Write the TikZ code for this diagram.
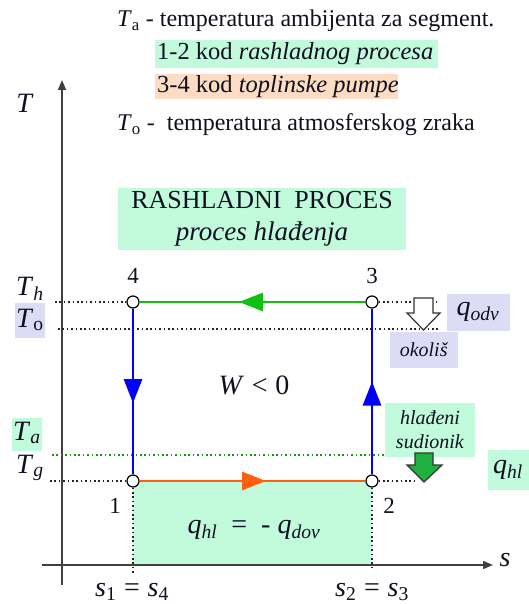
\documentclass[tikz,border=0pt]{standalone}
\usepackage{fontspec}
\setmainfont{Liberation Serif}
\usetikzlibrary{arrows.meta,decorations.markings}
\definecolor{mint}{HTML}{C2FADC}
\definecolor{lav}{HTML}{DCDCF6}
\definecolor{peach}{HTML}{FCDCC2}
\definecolor{lgreen}{HTML}{10C010}
\definecolor{lorange}{HTML}{FF6010}
\definecolor{lblue}{HTML}{0000FF}
\definecolor{bgreen}{HTML}{20B040}
\definecolor{ink}{HTML}{101020}
\newcommand{\lo}[1]{\textsubscript{#1}}
\newcommand{\fsz}[1]{\fontsize{#1}{#1}\selectfont}
\begin{document}
\begin{tikzpicture}[x=1pt,y=-1pt,
  txt/.style={font=\fsz{24}, inner sep=0pt, text=ink},
  var/.style={font=\fsz{28}, inner sep=0pt, text=ink},
  num/.style={font=\fsz{23}, inner sep=0pt, text=ink},
  boxm/.style={fill=mint, inner sep=0pt, text=ink},
  boxl/.style={fill=lav, inner sep=0pt, text=ink},
  boxp/.style={fill=peach, inner sep=0pt, text=ink},
  dotl/.style={line width=1.3pt, dash pattern=on 1.6pt off 2.8pt, black!85},
  gdotl/.style={line width=1.3pt, dash pattern=on 1.6pt off 2.8pt, lgreen!80!black},
  pt/.style={circle, draw=black, fill=white, minimum size=12pt, inner sep=0pt, line width=1.2pt},
  axis/.style={line width=1.6pt, black!75, -{Triangle[length=10pt,width=8pt]}},
  arrowmid/.style={postaction={decorate}, decoration={markings, mark=at position #1 with {\arrow{Triangle[length=24pt,width=18pt]}}}},
  proc/.style={line width=2.8pt}
]
\useasboundingbox (0,0) rectangle (529,604);

% top legend
\node[txt, anchor=west] (ta) at (117,21) {\textit{T}\lo{a} - temperatura ambijenta za segment.};
\node[boxm, anchor=west, inner xsep=2pt, minimum height=28pt, font=\fsz{24.5}] (l12) at (155,54) {\makebox[279pt][l]{1-2 kod \textit{rashladnog procesa}}};
\node[boxp, anchor=west, inner xsep=2pt, minimum height=25pt, font=\fsz{24.5}] (l34) at (155,87) {\makebox[239pt][l]{3-4 kod \textit{toplinske pumpe}}};
\node[txt, anchor=west] (to) at (117,125) {\textit{T}\lo{o} -\ \ temperatura atmosferskog zraka};

% title box
\node[boxm, minimum width=288pt, minimum height=62pt, align=center, font=\fontsize{26}{32}\selectfont] (title) at (262,219) {RASHLADNI\ \ PROCES\\\fontsize{27}{32}\selectfont\textit{proces hlađenja}};

% area q_hl
\fill[mint] (133,481) rectangle (372,565);

% axes
\coordinate (ybot) at (62,585);
\coordinate (ytop) at (62,80);
\coordinate (xl) at (42,565);
\coordinate (xr) at (493,565);
\draw[axis] (ybot) -- (ytop);
\draw[axis] (xl) -- (xr);
\node[var] (lT) at (25,103) {\textit{T}};
\node[var] (ls) at (505,560) {\textit{s}};

% state points
\node[pt] (p4) at (133,302) {};
\node[pt] (p3) at (372,302) {};
\node[pt] (p1) at (133,481) {};
\node[pt] (p2) at (372,481) {};

% dotted guide lines
\coordinate (thl) at (55,302);
\coordinate (thr) at (440,302);
\coordinate (tol) at (58,329);
\coordinate (tor) at (438,329);
\coordinate (tal) at (52,455);
\coordinate (tar) at (386,455);
\coordinate (tgl) at (50,481);
\coordinate (tgr) at (418,481);
\coordinate (s1b) at (133,575);
\coordinate (s2b) at (372,570);
\draw[dotl] (thl) -- (p4);
\draw[dotl] (p3) -- (thr);
\draw[dotl] (tol) -- (tor);
\draw[gdotl] (tal) -- (tar);
\draw[dotl] (tgl) -- (p1);
\draw[dotl] (p2) -- (tgr);
\draw[dotl] (p1) -- (s1b);
\draw[dotl] (p2) -- (s2b);

% process lines
\draw[proc, lgreen, arrowmid=0.56] (p3) -- (p4);
\draw[proc, lorange, arrowmid=0.56] (p1) -- (p2);
\draw[proc, lblue, arrowmid=0.57] (p4) -- (p1);
\draw[proc, lblue, arrowmid=0.56] (p2) -- (p3);

% point labels
\node[num] (n4) at (133,276) {4};
\node[num] (n3) at (372,276) {3};
\node[num] (n1) at (115,506) {1};
\node[num] (n2) at (389,506) {2};

% axis labels
\node[var] (lth) at (30,289) {\textit{T}\lo{\textit{h}}};
\node[boxl, minimum width=30pt, minimum height=35pt] (lto) at (30,320) {};
\node[var] (ltot) at (30,320) {\textit{T}\lo{o}};
\node[boxm, minimum width=30pt, minimum height=33pt] (lta) at (27,434) {};
\node[var] (ltat) at (27,433) {\textit{T}\lo{\textit{a}}};
\node[var] (ltg) at (30,468) {\textit{T}\lo{\textit{g}}};
\node[var] (ls1) at (132,592) {\textit{s}\lo{1}\;=\;\textit{s}\lo{4}};
\node[var] (ls2) at (372,592) {\textit{s}\lo{2}\;=\;\textit{s}\lo{3}};
\node[var] (qarea) at (254,530) {\textit{q}\lo{\textit{hl}}\ \ =\ \ -\ \textit{q}\lo{\textit{dov}}};
\node[var] (W) at (254,385) {\textit{W}\;<\;0};

% right side: heat rejected
\draw[line width=1.2pt, draw=black!80, fill=white] (414,298) -- (433,298) -- (433,313) -- (440,313) -- (423.5,330) -- (407,313) -- (414,313) -- cycle;
\node[boxl, minimum width=63pt, minimum height=37pt] (qodv) at (478,312) {\fsz{28}\textit{q}\lo{\textit{odv}}};
\node[boxl, minimum width=68pt, minimum height=36pt, font=\fsz{20}] (okolis) at (424,350) {\textit{okoliš}};

% right side: heat absorbed
\node[boxm, minimum width=90pt, minimum height=54pt, align=center, font=\fontsize{20}{24}\selectfont] (hlad) at (430,430) {\textit{hlađeni}\\\textit{sudionik}};
\draw[line width=1.2pt, draw=black!80, fill=bgreen] (415,453) -- (433,453) -- (433,465) -- (442,465) -- (424,482) -- (407,465) -- (415,465) -- cycle;
\node[boxm, minimum width=41pt, minimum height=40pt] (qhl) at (508,470) {\fsz{28}\textit{q}\lo{\textit{hl}}};
\end{tikzpicture}
\end{document}
